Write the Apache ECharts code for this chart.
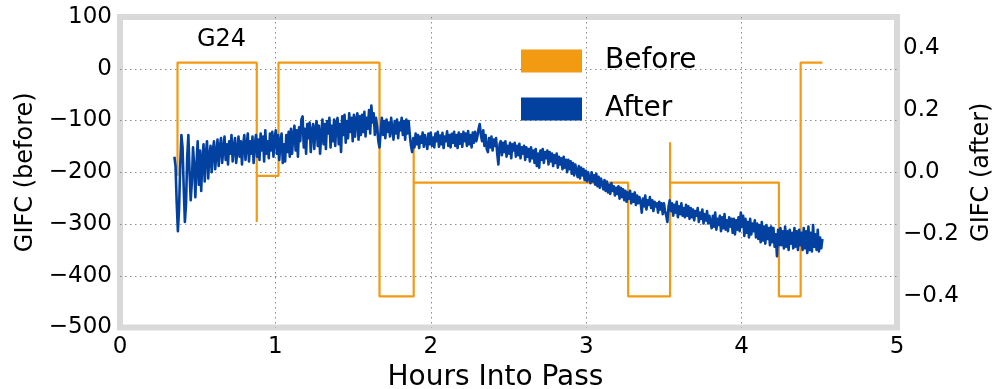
<!DOCTYPE html>
<html>
<head>
<meta charset="utf-8">
<script src="https://cdn.jsdelivr.net/npm/echarts@6/dist/echarts.min.js"></script>
<style>
  html, body { margin: 0; padding: 0; background: #fff; }
  #chart { width: 994px; height: 389px; }
</style>
</head>
<body>
<div id="chart"></div>
<script>
// GIFC before correction: piecewise-constant steps (hours, value)
const beforeHours  = [0.37, 0.37, 0.88, 0.88, 0.88, 1.02, 1.02, 1.67, 1.67, 1.89, 1.89, 1.89, 3.27, 3.27, 3.54, 3.54, 3.54, 4.24, 4.24, 4.38, 4.38, 4.52];
const beforeValues = [-207, 12,   12,   -296, -207, -207, 12,   12,   -440, -440, -142, -220, -220, -440, -440, -142, -220, -220, -440, -440, 12,   12];

// GIFC after correction: sampled every 0.0075 h starting at 0.35 h (20 samples per row)
const afterStart = 0.35;
const afterStep = 0.0075;
const afterValues = [
  0.05, 0.02, -0.1, -0.19, -0.12, 0.02, 0.12, 0.08, -0.05, -0.16, -0.1, 0.05, 0.12, 0.0, -0.09, -0.03, 0.08, 0.02, -0.08, 0.03,
  0.1, -0.04, 0.07, -0.06, 0.04, 0.09, -0.03, 0.06, 0.1, -0.02, 0.05, 0.085, 0.0, 0.07, 0.1, 0.01, 0.06, 0.105, 0.02, 0.08,
  0.11, 0.03, 0.075, 0.115, 0.04, 0.09, 0.025, 0.1, 0.06, 0.12, 0.035, 0.08, 0.11, 0.03, 0.07, 0.115, 0.05, 0.1, 0.025, 0.09,
  0.12, 0.04, 0.085, 0.125, 0.035, 0.1, 0.06, 0.115, 0.03, 0.09, 0.12, 0.05, 0.105, 0.04, 0.125, 0.07, 0.115, 0.035, 0.135, 0.06,
  0.1, 0.045, 0.125, 0.07, 0.13, 0.05, 0.11, 0.135, 0.06, 0.12, 0.04, 0.1, 0.125, 0.03, 0.09, 0.035, 0.12, 0.065, 0.13, 0.05,
  0.14, 0.06, 0.12, 0.15, 0.07, 0.135, 0.05, 0.145, 0.1, 0.17, 0.18, 0.08, 0.14, 0.06, 0.155, 0.11, 0.16, 0.065, 0.135, 0.155,
  0.075, 0.14, 0.165, 0.085, 0.15, 0.06, 0.12, 0.17, 0.09, 0.155, 0.075, 0.165, 0.125, 0.175, 0.08, 0.15, 0.1, 0.17, 0.085, 0.16,
  0.175, 0.09, 0.155, 0.065, 0.18, 0.12, 0.185, 0.095, 0.165, 0.11, 0.19, 0.13, 0.175, 0.1, 0.185, 0.115, 0.17, 0.19, 0.105, 0.18,
  0.12, 0.185, 0.13, 0.195, 0.115, 0.175, 0.14, 0.2, 0.125, 0.215, 0.16, 0.19, 0.12, 0.175, 0.145, 0.1, 0.08, 0.13, 0.175, 0.12,
  0.165, 0.11, 0.17, 0.13, 0.16, 0.115, 0.175, 0.14, 0.105, 0.165, 0.125, 0.17, 0.11, 0.16, 0.135, 0.175, 0.12, 0.165, 0.105, 0.17,
  0.125, 0.165, 0.12, 0.085, 0.065, 0.11, 0.08, 0.125, 0.09, 0.12, 0.078, 0.115, 0.095, 0.128, 0.082, 0.12, 0.1, 0.075, 0.125, 0.09,
  0.128, 0.085, 0.112, 0.08, 0.125, 0.1, 0.13, 0.082, 0.118, 0.09, 0.127, 0.078, 0.115, 0.1, 0.132, 0.085, 0.12, 0.08, 0.124, 0.095,
  0.13, 0.085, 0.12, 0.078, 0.128, 0.092, 0.122, 0.082, 0.13, 0.1, 0.125, 0.085, 0.133, 0.09, 0.12, 0.08, 0.128, 0.095, 0.13, 0.1,
  0.115, 0.14, 0.155, 0.12, 0.1, 0.135, 0.085, 0.12, 0.075, 0.065, 0.11, 0.08, 0.115, 0.07, 0.105, 0.085, 0.11, 0.06, 0.025, 0.09,
  0.1, 0.055, 0.095, 0.065, 0.1, 0.05, 0.085, 0.06, 0.095, 0.045, 0.09, 0.07, 0.095, 0.05, 0.085, 0.055, 0.092, 0.045, 0.08, 0.06,
  0.085, 0.04, 0.08, 0.05, 0.075, 0.035, 0.08, 0.045, 0.07, 0.03, 0.075, 0.02, 0.06, 0.015, 0.07, 0.04, 0.075, 0.03, 0.065, 0.045,
  0.07, 0.025, 0.065, 0.035, 0.06, 0.02, 0.055, 0.03, 0.06, 0.015, 0.05, 0.025, 0.045, 0.01, 0.05, 0.015, 0.04, 0.0, 0.04, 0.01,
  0.035, -0.005, 0.03, -0.01, 0.025, 0.005, -0.015, 0.02, -0.02, 0.015, -0.01, 0.01, -0.025, 0.005, -0.03, 0.0, -0.02, -0.035, 0.0, -0.03,
  -0.01, -0.04, -0.005, -0.045, -0.015, -0.05, -0.02, -0.035, -0.055, -0.025, -0.06, -0.03, -0.065, -0.04, -0.07, -0.035, -0.06, -0.045, -0.075, -0.05,
  -0.07, -0.045, -0.085, -0.05, -0.08, -0.055, -0.09, -0.06, -0.095, -0.065, -0.085, -0.06, -0.1, -0.07, -0.095, -0.065, -0.105, -0.075, -0.1, -0.08,
  -0.095, -0.13, -0.085, -0.11, -0.075, -0.12, -0.09, -0.105, -0.08, -0.115, -0.09, -0.125, -0.095, -0.11, -0.1, -0.13, -0.095, -0.12, -0.1, -0.135,
  -0.1, -0.125, -0.14, -0.16, -0.11, -0.09, -0.125, -0.1, -0.14, -0.105, -0.13, -0.095, -0.145, -0.11, -0.135, -0.1, -0.14, -0.115, -0.145, -0.105,
  -0.14, -0.11, -0.15, -0.115, -0.145, -0.12, -0.155, -0.125, -0.14, -0.115, -0.16, -0.13, -0.15, -0.12, -0.165, -0.135, -0.155, -0.125, -0.165, -0.14,
  -0.135, -0.18, -0.14, -0.175, -0.13, -0.185, -0.15, -0.17, -0.14, -0.19, -0.145, -0.18, -0.135, -0.185, -0.155, -0.19, -0.145, -0.175, -0.15, -0.195,
  -0.15, -0.2, -0.155, -0.185, -0.145, -0.19, -0.13, -0.175, -0.14, -0.205, -0.15, -0.195, -0.16, -0.21, -0.15, -0.2, -0.165, -0.19, -0.155, -0.21,
  -0.165, -0.215, -0.17, -0.225, -0.16, -0.22, -0.175, -0.23, -0.17, -0.215, -0.18, -0.235, -0.175, -0.225, -0.18, -0.24, -0.2, -0.27, -0.185, -0.235,
  -0.18, -0.235, -0.19, -0.245, -0.175, -0.24, -0.19, -0.25, -0.185, -0.23, -0.195, -0.245, -0.18, -0.24, -0.19, -0.25, -0.185, -0.235, -0.195, -0.25,
  -0.18, -0.245, -0.19, -0.26, -0.175, -0.25, -0.195, -0.255, -0.17, -0.24, -0.2, -0.25, -0.185, -0.255, -0.21, -0.245, -0.215
];

// Axis ranges and tick labels
const xTicks = [0, 1, 2, 3, 4, 5];
const leftTicks = [-500, -400, -300, -200, -100, 0, 100];
const rightTicks = [-0.4, -0.2, 0.0, 0.2, 0.4];

const seriesNames = ['Before', 'After'];
const markText = 'G24';

const ORANGE = '#f29a12';
const BLUE = '#0341a0';
const FONT = 'DejaVu Sans';

const minusSign = s => String(s).replace('-', '\u2212');

const beforeData = beforeHours.map((h, i) => [h, beforeValues[i]]);
const afterData = afterValues.map((v, i) => [+(afterStart + i * afterStep).toFixed(4), v]);

const chart = echarts.init(document.getElementById('chart'), null, { renderer: 'canvas' });

const gridDots = {
  show: true, showMinLine: false, showMaxLine: false,
  lineStyle: { color: '#8a8a8a', width: 1, type: [1.5, 3.5] }
};

chart.setOption({
  animation: false,
  backgroundColor: '#ffffff',
  textStyle: { fontFamily: FONT },
  grid: {
    left: 120, right: 97, top: 17, bottom: 61.5,
    outerBoundsMode: 'none', containLabel: false,
    show: true, borderColor: '#d9d9d9', borderWidth: 6, backgroundColor: 'transparent'
  },
  legend: {
    orient: 'vertical',
    left: 521, top: 47, padding: 0,
    itemWidth: 61, itemHeight: 23, itemGap: 20,
    icon: 'rect',
    textStyle: { fontFamily: FONT, fontSize: 28, color: '#000', padding: [0, 0, 0, 18], lineHeight: 23 },
    data: [
      { name: seriesNames[0], itemStyle: { color: ORANGE } },
      { name: seriesNames[1], itemStyle: { color: BLUE } }
    ]
  },
  graphic: [{
    type: 'text', left: 197, top: 28,
    style: { text: markText, fontFamily: FONT, fontSize: 24, fill: '#000' }
  }],
  xAxis: {
    type: 'value',
    min: xTicks[0], max: xTicks[xTicks.length - 1], interval: 1,
    axisLine: { show: false }, axisTick: { show: false },
    splitLine: gridDots,
    axisLabel: { fontFamily: FONT, fontSize: 23, color: '#000', margin: 8 },
    name: 'Hours Into Pass', nameLocation: 'middle', nameGap: 31,
    nameTextStyle: { fontFamily: FONT, fontSize: 28, color: '#000', padding: [0, 26, 0, 0] }
  },
  yAxis: [{
    type: 'value',
    min: leftTicks[0], max: leftTicks[leftTicks.length - 1], interval: 100,
    axisLine: { show: false }, axisTick: { show: false },
    splitLine: gridDots,
    axisLabel: { fontFamily: FONT, fontSize: 23, color: '#000', margin: 8, formatter: v => minusSign(v) },
    name: 'GIFC (before)', nameLocation: 'middle', nameGap: 80, nameRotate: 90,
    nameTextStyle: { fontFamily: FONT, fontSize: 24, color: '#000' }
  }, {
    type: 'value', position: 'right',
    min: -0.5, max: 0.5, interval: 0.1,
    axisLine: { show: false }, axisTick: { show: false },
    splitLine: { show: false },
    axisLabel: {
      fontFamily: FONT, fontSize: 23, color: '#000', margin: 6,
      formatter: v => {
        const hit = rightTicks.find(t => Math.abs(t - v) < 1e-6);
        return hit === undefined ? '' : minusSign(hit.toFixed(1));
      }
    },
    name: 'GIFC (after)', nameLocation: 'middle', nameGap: 72, nameRotate: 90,
    nameTextStyle: { fontFamily: FONT, fontSize: 24, color: '#000' }
  }],
  series: [{
    name: seriesNames[0], type: 'line', yAxisIndex: 0,
    data: beforeData, showSymbol: false, symbol: 'none',
    lineStyle: { color: ORANGE, width: 2.2 }, itemStyle: { color: ORANGE }
  }, {
    name: seriesNames[1], type: 'line', yAxisIndex: 1,
    data: afterData, showSymbol: false, symbol: 'none',
    lineStyle: { color: BLUE, width: 2.6, join: 'round' }, itemStyle: { color: BLUE }
  }]
});
</script>
</body>
</html>
